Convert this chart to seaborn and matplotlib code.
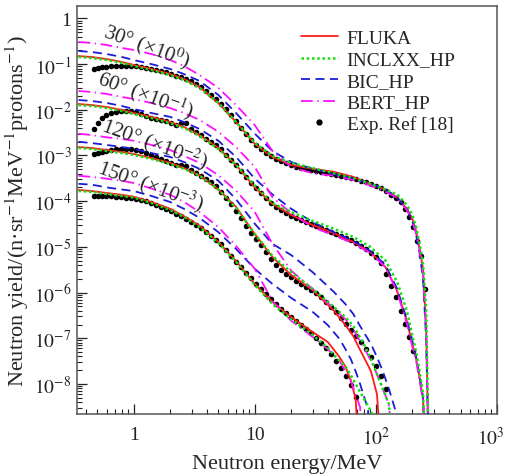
import pandas as pd
import matplotlib
matplotlib.use("Agg")
import matplotlib.pyplot as plt
import matplotlib.transforms as mtransforms
from matplotlib.lines import Line2D
from matplotlib.ticker import FixedLocator, FixedFormatter, LogLocator, NullFormatter
import seaborn as sns

# -----------------------------
# Energy grids (MeV)
# -----------------------------
e_fwd = [0.35, 0.45, 0.6, 0.8, 1.0, 1.4, 2.0, 2.6, 3.5, 5, 7, 10, 14, 20, 30, 45,
         65, 90, 120, 150, 180, 200, 215, 230, 245, 260, 275]
e_120 = [0.35, 0.45, 0.6, 0.8, 1.0, 1.4, 2.0, 2.6, 3.5, 5, 7, 10, 14, 20, 30, 45,
         56, 65, 72, 81, 91, 102, 114, 128, 144, 161]
e_150 = [0.35, 0.45, 0.6, 0.8, 1.0, 1.4, 2.0, 2.6, 3.5, 5, 7, 10, 14, 20, 30, 40,
         50, 56, 62, 68, 74, 80, 86, 92, 98]
e_exp = [0.467, 0.504, 0.544, 0.587, 0.645, 0.710, 0.781, 0.859, 0.944, 1.04,
         1.14, 1.26, 1.38, 1.52, 1.67, 1.84, 2.02, 2.22, 2.45, 2.69,
         2.96, 3.25, 3.58, 3.94, 4.33, 4.76, 5.24, 5.76, 6.34, 6.97,
         7.66, 8.43, 9.27, 10.2, 11.2, 12.3, 13.6, 14.9, 16.4, 18.0,
         19.8, 21.8, 24.0, 26.4, 29.0, 31.9, 35.1, 38.6, 42.5, 46.7,
         51.4, 56.5, 62.1, 68.4, 75.2, 82.7, 90.9, 100, 110, 121,
         133, 146, 161, 174, 187, 202, 218, 235, 254]

# -----------------------------
# 30 deg (x10^0)
# -----------------------------
fluka_30 = [0.150, 0.143, 0.129, 0.111, 0.0955, 0.0782, 0.0607, 0.0472, 0.0316, 0.0141,
            0.0054, 1.79e-3, 9.3e-4, 6.2e-4, 5.1e-4, 4.4e-4, 3.4e-4, 2.4e-4, 1.8e-4, 1.2e-4,
            6.8e-5, 4.1e-5, 2.2e-5, 9.0e-6, 3.3e-6, 1.6e-7, 1e-10]
inclxx_30 = [0.143, 0.136, 0.123, 0.106, 0.0908, 0.0743, 0.0577, 0.0449, 0.0300, 0.0141,
             0.0054, 1.88e-3, 9.8e-4, 6.9e-4, 5.3e-4, 4.1e-4, 3.2e-4, 2.4e-4, 1.8e-4, 1.4e-4,
             8.3e-5, 5.0e-5, 2.7e-5, 1.16e-5, 4.2e-6, 4.4e-7, 1e-10]
bic_30 = [0.194, 0.184, 0.166, 0.143, 0.123, 0.100, 0.0782, 0.0607, 0.0427, 0.0211,
          0.0085, 0.0030, 1.25e-3, 7.2e-4, 5.1e-4, 3.9e-4, 3.2e-4, 2.4e-4, 1.8e-4, 1.2e-4,
          6.8e-5, 3.7e-5, 1.8e-5, 7.0e-6, 2.0e-6, 9.7e-8, 1e-10]
bert_30 = [0.305, 0.290, 0.262, 0.225, 0.204, 0.166, 0.123, 0.0908, 0.0577, 0.0300,
           0.0127, 0.0046, 1.25e-3, 5.6e-4, 4.1e-4, 3.6e-4, 2.9e-4, 2.2e-4, 1.6e-4, 1.2e-4,
           6.4e-5, 3.7e-5, 1.9e-5, 8.1e-6, 2.55e-6, 1.24e-7, 1e-10]
exp_30 = [0.0782, 0.0822, 0.0865, 0.0865, 0.0908, 0.0908, 0.0908, 0.0908, 0.0908, 0.0908,
          0.0865, 0.0822, 0.0782, 0.0743, 0.0706, 0.0672, 0.0607, 0.0550, 0.0522, 0.0472,
          0.0427, 0.0367, 0.0316, 0.0258, 0.0211, 0.0172, 0.0134, 0.0104, 0.0077, 0.0057,
          0.0040, 0.0030, 0.0022, 1.70e-3, 1.39e-3, 1.13e-3, 9.8e-4, 8.4e-4, 7.6e-4, 6.9e-4,
          6.2e-4, 5.6e-4, 5.3e-4, 5.1e-4, 4.8e-4, 4.6e-4, 4.4e-4, 4.1e-4, 3.9e-4, 3.7e-4,
          3.6e-4, 3.4e-4, 3.2e-4, 3.1e-4, 2.8e-4, 2.6e-4, 2.4e-4, 2.2e-4, 1.9e-4, 1.7e-4,
          1.4e-4, 1.2e-4, 9.6e-5, 6.8e-5, 4.5e-5, 2.7e-5, 1.35e-5, 6.3e-6, 1.2e-6]

# -----------------------------
# 60 deg (x10^-1)
# -----------------------------
fluka_60 = [0.0134, 0.0127, 0.0115, 0.0099, 0.0085, 0.0070, 0.0054, 0.0042, 0.0028, 1.46e-3,
            6.2e-4, 2.0e-4, 8.7e-5, 5.0e-5, 3.0e-5, 2.0e-5, 1.28e-5, 7.7e-6, 3.6e-6, 1.08e-6,
            2.4e-7, 7.5e-8, 3.5e-8, 1.3e-8, 4.7e-9, 1e-10, 1e-10]
inclxx_60 = [0.0127, 0.0121, 0.0109, 0.0094, 0.0081, 0.0066, 0.0051, 0.0040, 0.0027, 1.39e-3,
             6.2e-4, 2.2e-4, 9.0e-5, 5.8e-5, 3.7e-5, 2.5e-5, 1.65e-5, 1.0e-5, 5.0e-6, 1.7e-6,
             4.0e-7, 1.15e-7, 5.0e-8, 1.8e-8, 6.0e-9, 1e-10, 1e-10]
bic_60 = [0.0164, 0.0156, 0.0141, 0.0121, 0.0104, 0.0085, 0.0070, 0.0054, 0.0038, 2.1e-3,
          9.3e-4, 3.1e-4, 1.4e-4, 6.8e-5, 3.5e-5, 2.1e-5, 1.35e-5, 8.1e-6, 4.0e-6, 1.2e-6,
          2.6e-7, 8.7e-8, 3.9e-8, 1.4e-8, 5.2e-9, 1e-10, 1e-10]
bert_60 = [0.0258, 0.0245, 0.0222, 0.0191, 0.0172, 0.0141, 0.0109, 0.0085, 0.0060, 3.3e-3,
           1.53e-3, 5.6e-4, 1.2e-4, 5.5e-5, 2.7e-5, 1.8e-5, 1.2e-5, 7.3e-6, 3.6e-6, 1.03e-6,
           2.1e-7, 6.4e-8, 3.2e-8, 1.16e-8, 4.2e-9, 1e-10, 1e-10]
exp_60 = [0.0038, 0.0051, 0.0066, 0.0077, 0.0085, 0.0090, 0.0094, 0.0094, 0.0094, 0.0090,
          0.0081, 0.0073, 0.0066, 0.0063, 0.0060, 0.0057, 0.0051, 0.0046, 0.0051, 0.0051,
          0.0038, 0.0033, 0.0028, 0.0023, 0.0020, 1.70e-3, 1.39e-3, 1.03e-3, 8.0e-4, 6.2e-4,
          4.6e-4, 3.4e-4, 2.5e-4, 1.9e-4, 1.5e-4, 1.2e-4, 9.1e-5, 7.5e-5, 6.4e-5, 5.5e-5,
          4.7e-5, 4.3e-5, 3.9e-5, 3.5e-5, 3.2e-5, 2.9e-5, 2.6e-5, 2.35e-5, 2.1e-5, 1.9e-5,
          1.7e-5, 1.57e-5, 1.42e-5, 1.22e-5, 1.05e-5, 9.0e-6, 7.3e-6, 6.0e-6, 4.4e-6, 2.55e-6,
          1.39e-6, 8.0e-7, 4.0e-7, 2.1e-7, 1.07e-7, 5.3e-8]

# -----------------------------
# 120 deg (x10^-2)
# -----------------------------
fluka_120 = [1.53e-3, 1.46e-3, 1.32e-3, 1.19e-3, 1.08e-3, 8.8e-4, 6.9e-4, 5.3e-4, 3.7e-4, 1.8e-4,
             7.5e-5, 1.9e-5, 6.0e-6, 2.4e-6, 1.14e-6, 4.0e-7, 1.95e-7, 1.12e-7, 6.4e-8, 3.5e-8,
             1.9e-8, 6.0e-9, 1e-10, 1e-10, 1e-10, 1e-10]
inclxx_120 = [1.46e-3, 1.39e-3, 1.25e-3, 1.13e-3, 1.03e-3, 8.4e-4, 6.5e-4, 5.1e-4, 3.6e-4, 1.8e-4,
              7.1e-5, 1.9e-5, 6.3e-6, 2.8e-6, 1.2e-6, 4.8e-7, 2.9e-7, 1.86e-7, 1.18e-7, 6.8e-8,
              3.5e-8, 1.65e-8, 7.8e-9, 3.6e-9, 1e-10, 1e-10]
bic_120 = [2.0e-3, 1.87e-3, 1.70e-3, 1.53e-3, 1.39e-3, 1.13e-3, 9.3e-4, 7.2e-4, 5.1e-4, 2.8e-4,
           1.1e-4, 3.2e-5, 1.16e-5, 6.6e-6, 2.8e-6, 1.03e-6, 5.6e-7, 3.4e-7, 2.1e-7, 1.24e-7,
           7.5e-8, 3.9e-8, 1.9e-8, 7.8e-9, 2.8e-9, 1e-10]
bert_120 = [3.0e-3, 2.8e-3, 2.5e-3, 2.3e-3, 2.1e-3, 1.70e-3, 1.32e-3, 9.8e-4, 6.9e-4, 3.7e-4,
            1.7e-4, 5.8e-5, 1.16e-5, 3.0e-6, 1.2e-6, 4.4e-7, 2.6e-7, 1.6e-7, 9.7e-8, 5.8e-8,
            3.2e-8, 1.65e-8, 7.8e-9, 3.6e-9, 1e-10, 1e-10]
exp_120 = [1.08e-3, 1.13e-3, 1.19e-3, 1.25e-3, 1.32e-3, 1.39e-3, 1.39e-3, 1.39e-3, 1.39e-3, 1.32e-3,
           1.25e-3, 1.13e-3, 1.03e-3, 9.3e-4, 8.4e-4, 7.6e-4, 6.9e-4, 6.2e-4, 6.2e-4, 5.9e-4,
           4.8e-4, 4.1e-4, 3.6e-4, 3.1e-4, 2.6e-4, 2.2e-4, 1.6e-4, 1.2e-4, 8.7e-5, 6.1e-5,
           4.3e-5, 2.9e-5, 2.0e-5, 1.5e-5, 1.1e-5, 7.7e-6, 5.4e-6, 4.0e-6, 3.1e-6, 2.55e-6,
           2.2e-6, 1.8e-6, 1.54e-6, 1.32e-6, 1.14e-6, 9.8e-7, 8.0e-7, 6.2e-7, 4.8e-7, 3.8e-7,
           2.8e-7, 2.1e-7, 1.52e-7, 1.12e-7, 8.3e-8, 5.8e-8, 3.9e-8, 2.5e-8, 1.5e-8, 7.8e-9]

# -----------------------------
# 150 deg (x10^-3)
# -----------------------------
fluka_150 = [1.76e-4, 1.67e-4, 1.51e-4, 1.38e-4, 1.25e-4, 9.6e-5, 6.8e-5, 4.7e-5, 2.9e-5, 1.28e-5,
             4.9e-6, 1.54e-6, 6.2e-7, 2.9e-7, 1.37e-7, 8.3e-8, 3.9e-8, 2.4e-8, 1.2e-8, 4.7e-9,
             1e-10, 1e-10, 1e-10, 1e-10, 1e-10]
inclxx_150 = [1.67e-4, 1.6e-4, 1.43e-4, 1.3e-4, 1.2e-4, 9.1e-5, 6.4e-5, 4.5e-5, 2.7e-5, 1.22e-5,
              4.7e-6, 1.47e-6, 5.6e-7, 2.6e-7, 1.18e-7, 6.1e-8, 3.2e-8, 2.4e-8, 1.57e-8, 1.0e-8,
              6.7e-9, 4.7e-9, 3.3e-9, 2.4e-9, 1e-10]
bic_150 = [2.4e-4, 2.3e-4, 2.0e-4, 1.8e-4, 1.67e-4, 1.3e-4, 9.6e-5, 6.8e-5, 4.3e-5, 2.1e-5,
           9.0e-6, 3.3e-6, 1.54e-6, 7.6e-7, 3.8e-7, 1.95e-7, 9.7e-8, 5.8e-8, 3.5e-8, 1.9e-8,
           1.0e-8, 5.2e-9, 2.8e-9, 1e-10, 1e-10]
bert_150 = [3.6e-4, 3.4e-4, 3.1e-4, 2.8e-4, 2.5e-4, 1.9e-4, 1.38e-4, 9.6e-5, 5.8e-5, 2.7e-5,
            1.05e-5, 3.3e-6, 6.5e-7, 2.4e-7, 1.07e-7, 5.8e-8, 3.2e-8, 1.9e-8, 1.2e-8, 6.0e-9,
            3.1e-9, 1e-10, 1e-10, 1e-10, 1e-10]
exp_150 = [1.3e-4, 1.3e-4, 1.3e-4, 1.3e-4, 1.3e-4, 1.25e-4, 1.25e-4, 1.2e-4, 1.2e-4, 1.12e-4,
           1.06e-4, 1.0e-4, 9.1e-5, 8.3e-5, 7.5e-5, 6.8e-5, 6.1e-5, 5.25e-5, 4.7e-5, 4.1e-5,
           3.5e-5, 3.0e-5, 2.6e-5, 2.1e-5, 1.7e-5, 1.42e-5, 1.16e-5, 8.6e-6, 6.3e-6, 4.7e-6,
           3.6e-6, 2.7e-6, 2.1e-6, 1.54e-6, 1.2e-6, 9.3e-7, 7.2e-7, 5.6e-7, 4.4e-7, 3.6e-7,
           2.9e-7, 2.4e-7, 1.95e-7, 1.6e-7, 1.3e-7, 1.02e-7, 7.9e-8, 6.1e-8, 4.5e-8, 3.2e-8,
           2.2e-8, 1.5e-8, 9.5e-9, 5.2e-9]

angle_labels = ["30\u00b0 (\u00d710$^{0}$)", "60\u00b0 (\u00d710$^{-1}$)",
                "120\u00b0 (\u00d710$^{-2}$)", "150\u00b0 (\u00d710$^{-3}$)"]
models = ["FLUKA", "INCLXX_HP", "BIC_HP", "BERT_HP"]

# -----------------------------
# Long tables for seaborn
# -----------------------------
groups = [
    ("30", e_fwd, [fluka_30, inclxx_30, bic_30, bert_30], exp_30),
    ("60", e_fwd, [fluka_60, inclxx_60, bic_60, bert_60], exp_60),
    ("120", e_120, [fluka_120, inclxx_120, bic_120, bert_120], exp_120),
    ("150", e_150, [fluka_150, inclxx_150, bic_150, bert_150], exp_150),
]

sim_parts = []
exp_parts = []
for angle, energy, curves, measured in groups:
    for model, vals in zip(models, curves):
        sim_parts.append(pd.DataFrame({"energy": energy, "yield": vals,
                                       "model": model, "angle": angle}))
    exp_parts.append(pd.DataFrame({"energy": e_exp[:len(measured)],
                                   "yield": measured, "angle": angle}))
sim = pd.concat(sim_parts, ignore_index=True)
exp = pd.concat(exp_parts, ignore_index=True)

colors = {"FLUKA": "#ff1a1a", "INCLXX_HP": "#10e010",
          "BIC_HP": "#1c1cd6", "BERT_HP": "#ff10ff"}
styles = {"FLUKA": "-", "INCLXX_HP": (0, (1, 1.1)),
          "BIC_HP": (0, (5, 3)), "BERT_HP": (0, (6.5, 2.5, 0.8, 2.5))}
widths = {"FLUKA": 1.3, "INCLXX_HP": 1.8, "BIC_HP": 1.3, "BERT_HP": 1.3}

# -----------------------------
# Plot
# -----------------------------
sns.set_style("white")
plt.rcParams["font.family"] = ["Liberation Serif", "DejaVu Serif"]
plt.rcParams["mathtext.fontset"] = "stix"

fig, ax = plt.subplots(figsize=(5.09, 4.77), dpi=100)
fig.subplots_adjust(left=0.1513, right=0.9764, bottom=0.130, top=0.9853)
ax.set_xscale("log")
ax.set_yscale("log")

sns.scatterplot(data=exp, x="energy", y="yield", color="black", s=16,
                linewidth=0, zorder=2, legend=False, ax=ax)

for angle, _, _, _ in groups:
    for model in ["FLUKA", "BIC_HP", "BERT_HP", "INCLXX_HP"]:
        part = sim[(sim["angle"] == angle) & (sim["model"] == model)]
        sns.lineplot(data=part, x="energy", y="yield", color=colors[model],
                     linestyle=styles[model], linewidth=widths[model],
                     estimator=None, sort=False, ax=ax, zorder=3)

ax.set_xlim(0.34, 1000)
ax.set_ylim(2.2e-9, 1.87)

ax.xaxis.set_major_locator(FixedLocator([1, 10, 100, 1000]))
ax.xaxis.set_major_formatter(FixedFormatter(["1", "10", "$10^{2}$", "$10^{3}$"]))
ax.xaxis.set_minor_locator(LogLocator(base=10, subs=range(2, 10), numticks=50))
ax.xaxis.set_minor_formatter(NullFormatter())

ax.yaxis.set_major_locator(FixedLocator([1, 1e-1, 1e-2, 1e-3, 1e-4, 1e-5, 1e-6, 1e-7, 1e-8]))
ax.yaxis.set_major_formatter(FixedFormatter(
    ["1"] + ["$10^{-%d}$" % k for k in range(1, 9)]))
ax.yaxis.set_minor_locator(LogLocator(base=10, subs=range(2, 10), numticks=100))
ax.yaxis.set_minor_formatter(NullFormatter())

ax.tick_params(which="both", direction="in", bottom=True, left=True,
               top=False, right=False, labelsize=14, colors="#222222")
ax.tick_params(which="major", length=7, width=0.9)
ax.tick_params(which="minor", length=3.5, width=0.8)
ax.tick_params(axis="x", pad=9)
ax.tick_params(axis="y", pad=4)

# nudge the 10^3 label so it stays inside the figure
fig.canvas.draw()
ax.get_xticklabels()[-1].set_transform(
    ax.get_xticklabels()[-1].get_transform()
    + mtransforms.ScaledTranslation(-6 / 100, 0, fig.dpi_scale_trans))

for spine in ax.spines.values():
    spine.set_color("#555555")
    spine.set_linewidth(1.1)

ax.set_xlabel("Neutron energy/MeV", fontsize=16, labelpad=4)
ax.set_ylabel("Neutron yield/(n\u00b7sr$^{-1}$MeV$^{-1}$protons$^{-1}$)",
              fontsize=16, labelpad=2)

# angle labels
label_pos = [(0.167, 0.904), (0.164, 0.784), (0.184, 0.664), (0.176, 0.562)]
for text, (px, py) in zip(angle_labels, label_pos):
    ax.text(px, py, text, transform=ax.transAxes, fontsize=15, rotation=-20,
            ha="center", va="center", rotation_mode="anchor", zorder=4)

# legend
handles = [Line2D([], [], color=colors[m], linestyle=styles[m], linewidth=widths[m])
           for m in models]
handles.append(Line2D([], [], color="black", marker="o", markersize=3.5, linestyle="none"))
ax.legend(handles, models + ["Exp. Ref [18]"], loc="upper left",
          bbox_to_anchor=(0.51, 0.967), frameon=False, fontsize=14,
          handlelength=1.9, handletextpad=0.45, labelspacing=0.2, borderpad=0)

fig.savefig("out.png", dpi=100)
